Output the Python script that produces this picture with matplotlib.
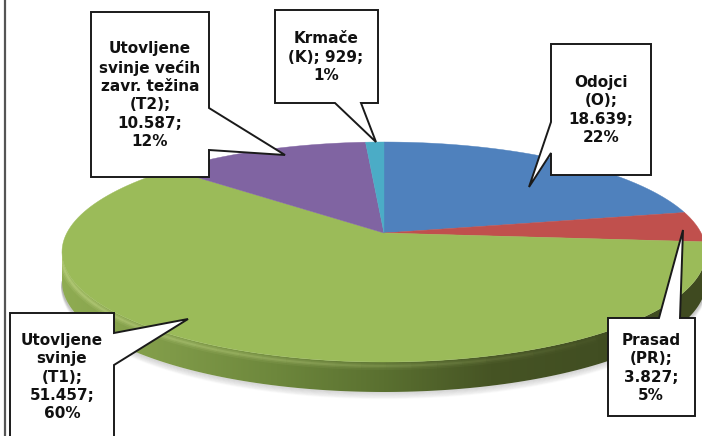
import numpy as np
import matplotlib
matplotlib.use('Agg')
import matplotlib.pyplot as plt
from matplotlib.colors import LinearSegmentedColormap
from matplotlib.patches import Polygon
from matplotlib.transforms import Affine2D

# Pig categories, clockwise from the top of the pie
names = ['Odojci (O)', 'Prasad (PR)', 'Utovljene svinje (T1)',
         'Utovljene svinje većih zavr. težina (T2)', 'Krmače (K)']
values = [18639, 3827, 51457, 10587, 929]
colors = ['#4f81bd', '#c0504d', '#9bbb59', '#8064a2', '#4bacc6']
labels = ['Odojci\n(O);\n18.639;\n22%',
          'Prasad\n(PR);\n3.827;\n5%',
          'Utovljene\nsvinje\n(T1);\n51.457;\n60%',
          'Utovljene\nsvinje većih\nzavr. težina\n(T2);\n10.587;\n12%',
          'Krmače\n(K); 929;\n1%']

W, H = 702, 436
cx, cy, rx, ry = 384, 252, 322, 110
apex_y = 233
depth = 30 / ry
a = (cy - apex_y) / ry


def tilt(xy):
    # perspective: keeps the unit circle but moves its centre up to the apex
    x, y = xy[:, 0], xy[:, 1]
    d = 1 + a * y
    return np.c_[x * np.sqrt(1 - a ** 2) / d, (y + a) / d]


plt.rcParams['font.family'] = 'DejaVu Sans'
fig = plt.figure(figsize=(W / 100, H / 100), dpi=100)

# axes are stretched so the unit pie comes out as a flat ellipse
ax = fig.add_axes([0, 0, 1, 1])
wedges, _ = ax.pie(values, colors=colors, startangle=90, counterclock=False,
                   radius=1, wedgeprops={'linewidth': 0})
for w in wedges:
    big = w.get_path().transformed(Affine2D().scale(1000)).to_polygons()[0] / 1000
    ax.add_patch(Polygon(tilt(big), closed=True, fc=w.get_facecolor(), ec=w.get_facecolor(),
                         lw=0.3, zorder=5))
    w.set_visible(False)
ax.set_aspect('auto')
ax.axis('off')

t = np.linspace(np.pi, 2 * np.pi, 200)
wall_x = np.r_[np.cos(t), np.cos(t[::-1])]
wall_y = np.r_[np.sin(t) - depth, np.sin(t[::-1])]

# soft shadow below the rim
for i in range(8):
    ax.plot(np.cos(t), np.sin(t) - depth - 0.008 * i, color='#808080',
            lw=1.5, alpha=0.16 - 0.018 * i, zorder=1)

# side wall, light on the left and dark on the right
wall_cmap = LinearSegmentedColormap.from_list(
    'wall', ['#8fac52', '#7f9a48', '#6d873c', '#5a7030', '#465424', '#414e22', '#3f4a20'])
img = ax.imshow(np.linspace(0, 1, 256)[None, :], cmap=wall_cmap, aspect='auto',
                extent=(-1, 1, -1 - depth, 0), zorder=2)
wall = Polygon(np.c_[wall_x, wall_y], closed=True, transform=ax.transData,
               fc='none', ec='none')
ax.add_patch(wall)
img.set_clip_path(wall)
ax.set_xlim(-cx / rx, (W - cx) / rx)
ax.set_ylim((cy - H) / ry, cy / ry)

# bevel highlight under the top edge, fading out towards the right
for k in range(0, 150, 5):
    seg = t[k:k + 6]
    fade = 1 - k / 150
    for lw, al in [(6, 0.16), (3.5, 0.25), (1.5, 0.35)]:
        ln, = ax.plot(np.cos(seg), np.sin(seg) - 0.035, color='#c8dc8c', lw=lw,
                      alpha=al * fade, zorder=4, solid_capstyle='butt')
        ln.set_clip_path(wall)

# overlay in pixel coordinates for the frame line and callouts
ov = fig.add_axes([0, 0, 1, 1])
ov.set_xlim(0, W)
ov.set_ylim(H, 0)
ov.axis('off')
ov.patch.set_alpha(0)
ov.plot([5, 5], [0, H], color='#555555', lw=1.6)

callouts = [
    # left, top, right, bottom, pointer outline, text centre
    (551, 44, 651, 175, [(551, 122), (529, 187), (551, 153)], (601, 110)),
    (608, 318, 695, 416, [(659, 318), (683, 230), (680, 318)], (651, 368)),
    (10, 313, 114, 440, [(114, 333), (188, 319), (114, 365)], (62, 377)),
    (91, 12, 209, 177, [(209, 108), (285, 155), (209, 150)], (150, 95)),
    (275, 10, 378, 103, [(335, 103), (376, 142), (361, 103)], (326, 57)),
]
for lab, (l, tp, r, b, ptr, txt) in zip(labels, callouts):
    # walk the box outline and splice the pointer into the side it leaves from
    if ptr[0][1] == tp and ptr[2][1] == tp:
        pts = [(l, tp)] + ptr + [(r, tp), (r, b), (l, b)]
    elif ptr[0][1] == b:
        pts = [(l, tp), (r, tp), (r, b)] + ptr[::-1] + [(l, b)]
    elif ptr[0][0] == r:
        pts = [(l, tp), (r, tp)] + ptr + [(r, b), (l, b)]
    else:
        pts = [(l, tp), (r, tp), (r, b), (l, b)] + ptr[::-1]
    ov.add_patch(Polygon(pts, closed=True, fc='white', ec='#1a1a1a', lw=1.4, zorder=8))
    ov.text(txt[0], txt[1], lab, ha='center', va='center', fontsize=11,
            fontweight='bold', color='#111111', linespacing=1.28, zorder=9)

fig.savefig('out.png', dpi=100)
